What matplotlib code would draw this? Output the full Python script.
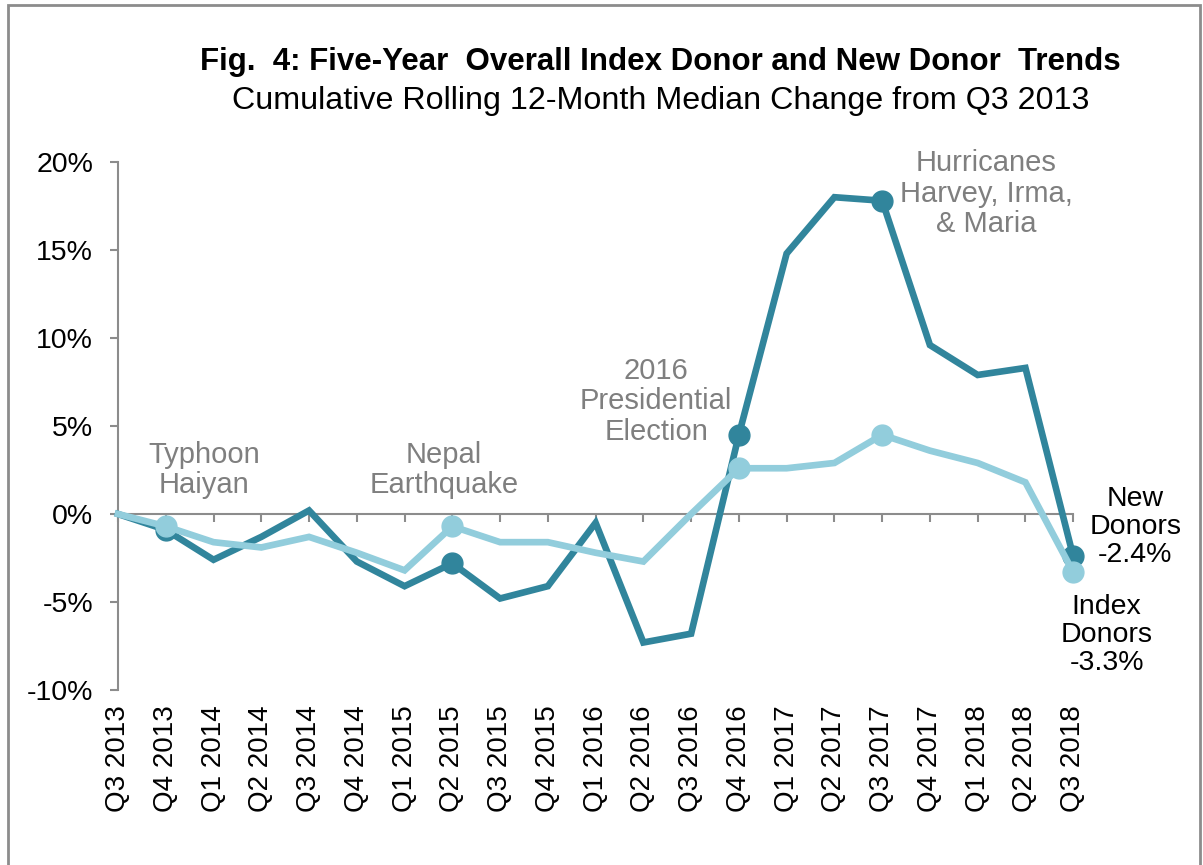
import matplotlib.pyplot as plt
from matplotlib.patches import Rectangle


plt.rcParams.update(
    {
        "font.family": ["Liberation Sans", "DejaVu Sans"],
        "font.size": 20,
    }
)

quarters = [
    "Q3 2013", "Q4 2013", "Q1 2014", "Q2 2014", "Q3 2014", "Q4 2014",
    "Q1 2015", "Q2 2015", "Q3 2015", "Q4 2015", "Q1 2016", "Q2 2016",
    "Q3 2016", "Q4 2016", "Q1 2017", "Q2 2017", "Q3 2017", "Q4 2017",
    "Q1 2018", "Q2 2018", "Q3 2018",
]
new_donors = [
    0.0, -0.9, -2.6, -1.3, 0.2, -2.7, -4.1, -2.8, -4.8, -4.1, -0.5,
    -7.3, -6.8, 4.5, 14.8, 18.0, 17.8, 9.6, 7.9, 8.3, -2.4,
]
index_donors = [
    0.0, -0.7, -1.6, -1.9, -1.3, -2.2, -3.2, -0.7, -1.6, -1.6, -2.2,
    -2.7, 0.0, 2.6, 2.6, 2.9, 4.5, 3.6, 2.9, 1.8, -3.3,
]
# quarters that get an event marker
event_idx = [1, 7, 13, 16, 20]

DARK = "#31859c"
LIGHT = "#92cddc"
AXIS_GRAY = "#8c8c8c"
NOTE_GRAY = "#7f7f7f"


def main() -> None:
    fig = plt.figure(figsize=(12.03, 8.65), dpi=100)
    ax = fig.add_axes([0.0981, 0.2023, 0.7940, 0.6104])

    x = list(range(len(quarters)))

    ax.plot(x, new_donors, color=DARK, lw=4.8, solid_joinstyle="miter", zorder=3, clip_on=False)
    ax.plot([x[i] for i in event_idx], [new_donors[i] for i in event_idx],
            "o", ms=15, color=DARK, zorder=4, clip_on=False)
    ax.plot(x, index_donors, color=LIGHT, lw=4.8, solid_joinstyle="miter", zorder=5, clip_on=False)
    ax.plot([x[i] for i in event_idx], [index_donors[i] for i in event_idx],
            "o", ms=15, color=LIGHT, zorder=6, clip_on=False)

    ax.set_xlim(0, len(quarters) - 1)
    ax.set_ylim(-10, 20)
    ax.set_yticks([-10, -5, 0, 5, 10, 15, 20])
    ax.set_yticklabels([f"{v}%" for v in [-10, -5, 0, 5, 10, 15, 20]])

    for side in ("top", "right"):
        ax.spines[side].set_visible(False)
    ax.spines["left"].set_color(AXIS_GRAY)
    ax.spines["left"].set_linewidth(1.5)
    ax.spines["bottom"].set_position(("data", 0))
    ax.spines["bottom"].set_color(AXIS_GRAY)
    ax.spines["bottom"].set_linewidth(1.5)

    ax.tick_params(axis="y", direction="out", length=6, width=1.5, color=AXIS_GRAY, pad=12, labelsize=20.5)
    ax.set_xticks(x)
    ax.tick_params(axis="x", direction="out", length=6, width=1.5, color=AXIS_GRAY, labelbottom=False)

    # category labels sit under the plot, away from the zero line
    sec = ax.secondary_xaxis("bottom")
    sec.set_xticks(x)
    sec.set_xticklabels(quarters, rotation=90, fontsize=20)
    sec.tick_params(length=0, pad=11)
    sec.spines["bottom"].set_visible(False)

    note = dict(ha="center", va="center", color=NOTE_GRAY, fontsize=21, linespacing=1.12)
    ax.text(1.8, 2.5, "Typhoon\nHaiyan", **note)
    ax.text(6.83, 2.5, "Nepal\nEarthquake", **note)
    ax.text(11.27, 6.4, "2016\nPresidential\nElection", **note)
    ax.text(18.18, 18.2, "Hurricanes\nHarvey, Irma,\n& Maria", **note)

    end = dict(ha="center", va="center", color="black", fontsize=20.5, linespacing=1.1, clip_on=False)
    ax.text(21.3, -0.75, f"New\nDonors\n{new_donors[-1]}%", **end)
    ax.text(20.7, -6.9, f"Index\nDonors\n{index_donors[-1]}%", **end)

    fig.text(0.549, 0.919, "Fig.  4: Five-Year  Overall Index Donor and New Donor  Trends",
             ha="center", va="baseline", fontsize=22.5, fontweight="bold")
    fig.text(0.549, 0.874, "Cumulative Rolling 12-Month Median Change from Q3 2013",
             ha="center", va="baseline", fontsize=23.2)

    fig.add_artist(Rectangle((8 / 1203, -0.05), 1192 / 1203, 1.05 - 5 / 865,
                             transform=fig.transFigure, fill=False,
                             ec=AXIS_GRAY, lw=2))

    fig.savefig("out.png", dpi=100)
    plt.close(fig)


if __name__ == "__main__":
    main()
